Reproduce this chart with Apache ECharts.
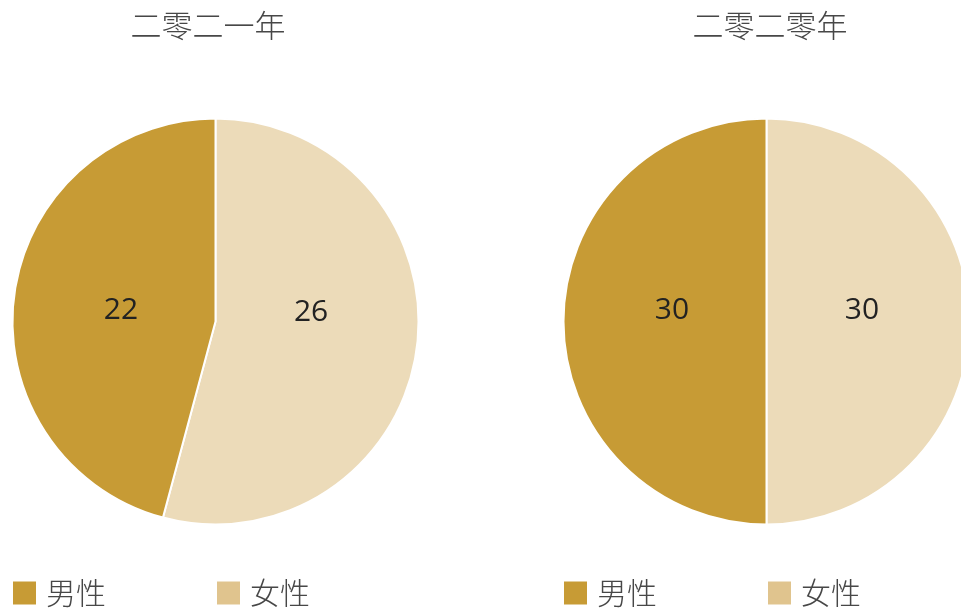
<!DOCTYPE html>
<html>
<head>
<meta charset="utf-8">
<script src="https://cdn.jsdelivr.net/npm/echarts@6/dist/echarts.min.js"></script>
<style>
  html, body { margin: 0; padding: 0; background: #fff; }
  #chart { width: 961px; height: 609px; }
</style>
</head>
<body>
<div id="chart"></div>
<script>
// data
const years = ['二零二一年', '二零二零年']
const genders = ['男性', '女性']
const male = [22, 30]
const female = [26, 30]

const maleColor = '#C79B35'
const femaleColor = '#ECDBB9'
const femaleLegendColor = '#E0C48E'
const font = '"Open Sans", "Noto Sans CJK SC", sans-serif'

// label nudges (pie label drawn a bit higher than the slice midpoint in the original)
const labelOffsets = [
  {male: [9, 3], female: [-8, -23]},
  {male: [10, -11], female: [-9, -11]}
]

const centers = [[215.5, 321.5], [766.5, 321.5]]
const titleX = [203, 765]
const legendX = [11, 562]

const chart = echarts.init(document.getElementById('chart'))

const option = {
  animation: false,
  title: years.map((t, i) => ({
    text: t,
    left: titleX[i],
    top: 5,
    textAlign: 'center',
    textStyle: {
      fontFamily: '"Noto Sans CJK SC", sans-serif',
      fontSize: 31,
      fontWeight: 300,
      color: '#474747'
    }
  })),
  legend: legendX.map(x => ({
    left: x,
    top: 578,
    padding: 0,
    itemWidth: 25,
    itemHeight: 25,
    itemGap: 109,
    icon: 'rect',
    data: [
      {name: genders[0], itemStyle: {color: maleColor}},
      {name: genders[1], itemStyle: {color: femaleLegendColor}}
    ],
    textStyle: {
      fontFamily: '"Noto Sans CJK SC", sans-serif',
      fontSize: 30,
      fontWeight: 300,
      color: '#474747',
      padding: [0, 0, 0, 4]
    }
  })),
  series: years.map((y, i) => ({
    name: y,
    type: 'pie',
    center: centers[i],
    radius: 203,
    startAngle: 90,
    clockwise: true,
    itemStyle: {borderColor: '#fff', borderWidth: 2},
    label: {
      show: true,
      position: 'inner',
      formatter: '{c}',
      fontFamily: font,
      fontSize: 30,
      color: '#222'
    },
    labelLine: {show: false},
    emphasis: {disabled: true},
    data: [
      {name: genders[1], value: female[i], itemStyle: {color: femaleColor},
        label: {offset: labelOffsets[i].female}},
      {name: genders[0], value: male[i], itemStyle: {color: maleColor},
        label: {offset: labelOffsets[i].male}}
    ]
  }))
}

chart.setOption(option)
</script>
</body>
</html>
